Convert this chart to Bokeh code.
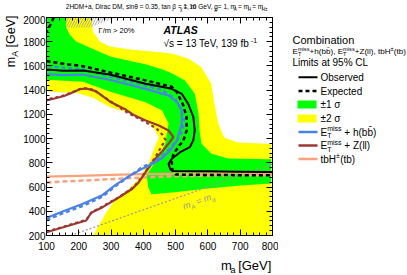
import math
from bokeh.plotting import figure
from bokeh.models import Range1d, Label, LinearAxis, SingleIntervalTicker, CustomJSTickFormatter
from bokeh.layouts import row, column
from bokeh.embed import file_html
from bokeh.resources import INLINE
from bokeh.core.properties import value

# ---------------- data (GeV) ----------------
yellow_x = [100, 238, 244, 265, 296, 357, 427, 488, 539, 580, 610, 620, 632, 650, 693, 796,
            796, 244, 284, 315, 356, 386, 417, 437, 448, 437, 410, 370, 300, 244, 192, 152, 100]
yellow_y = [2000, 2000, 1884, 1802, 1761, 1736, 1719, 1703, 1661, 1590, 1455, 1290, 1125, 1009, 968, 955,
            200, 200, 386, 503, 586, 668, 805, 943, 1012, 1067, 1150, 1205, 1255, 1337, 1378, 1380, 1390]

green_x = [100, 161, 161, 172, 192, 235, 300, 360, 410, 460, 490, 529, 559, 571, 574, 580, 610, 662, 796,
           796, 702, 601, 498, 425, 415, 410, 430, 448, 468, 478, 458, 407, 300, 213, 100]
green_y = [2000, 2000, 1917, 1860, 1802, 1750, 1675, 1640, 1612, 1570, 1538, 1480, 1372, 1207, 1067, 960, 877, 836, 830,
           629, 613, 588, 558, 540, 600, 700, 780, 850, 960, 1125, 1232, 1301, 1385, 1470, 1485]

hatch_x = [161, 161, 235, 314]
hatch_y = [2000, 1917, 1917, 2000]

exp_top_x = [122, 112, 100]
exp_top_y = [2000, 1940, 1880]
exp_x = [100, 152, 213, 300, 400, 488, 504, 524, 534, 534, 524, 509, 493, 488, 490, 500, 600, 700, 800]
exp_y = [1640, 1618, 1598, 1545, 1485, 1428, 1383, 1273, 1177, 1067, 984, 935, 870, 805, 740, 703, 700, 698, 697]

obs_x = [100, 152, 213, 296, 407, 488, 519, 539, 555, 559, 555, 544, 514, 488, 478, 483, 490, 600, 700, 800]
obs_y = [1571, 1560, 1562, 1530, 1453, 1411, 1370, 1287, 1177, 1067, 990, 929, 888, 833, 792, 751, 733, 730, 727, 724]

hbb_obs_x = [100, 152, 213, 274, 315, 356, 397, 427, 458, 483, 504, 519, 519, 504, 478, 407, 305, 213, 152, 100]
hbb_obs_y = [345, 400, 462, 535, 620, 690, 752, 790, 840, 902, 984, 1122, 1232, 1301, 1356, 1411, 1480, 1529, 1524, 1532]
hbb_exp_x = [100, 152, 213, 274, 315, 356, 397, 427, 468, 504, 522, 526, 514, 498, 458, 397, 300, 213, 152, 100]
hbb_exp_y = [328, 385, 445, 522, 612, 688, 765, 800, 877, 984, 1067, 1164, 1259, 1329, 1400, 1447, 1510, 1571, 1585, 1600]

zll_obs_x = [100, 152, 223, 238, 274, 325, 366, 386, 407, 437, 460, 480, 493, 478, 448, 407, 370, 345,
             300, 253, 223, 203, 172, 152, 100]
zll_obs_y = [227, 268, 324, 387, 434, 516, 586, 640, 723, 833, 900, 965, 1012, 1067, 1108, 1150, 1195, 1240,
             1300, 1392, 1414, 1408, 1370, 1350, 1315]
zll_exp_x = [100, 152, 223, 240, 274, 320, 360, 380, 400, 420, 440, 455, 468, 460, 440, 397, 350, 300, 244, 213, 152, 100]
zll_exp_y = [232, 272, 330, 392, 440, 510, 580, 630, 700, 780, 860, 930, 990, 1030, 1085, 1150, 1215, 1305, 1405, 1418, 1355, 1322]

tbh_obs_x = [100, 200, 300, 400, 500, 600, 700, 800]
tbh_obs_y = [686, 693, 700, 706, 709, 711, 713, 715]
tbh_exp_x = [100, 200, 300, 397, 500, 600, 700, 800]
tbh_exp_y = [638, 652, 665, 679, 690, 694, 697, 699]

diag_x = [175, 800]
diag_y = [200, 790]

# ---------------- styles ----------------
FONT = "Liberation Sans"
YELLOW = "#ffff00"
GREEN = "#00ff00"
BLUE = "#4b82ea"
BROWN = "#9a3836"
SALMON = "#f9a27c"
GRAY = "#9a9a9a"
SS = 0.7
MID = 0.3465  # alphabetic baseline -> middle of the text box, in em

W = {' ': 278, '%': 889, '(': 333, ')': 333, '+': 584, ',': 278, '-': 333, '.': 278, '/': 278,
     '=': 584, '>': 584, '[': 278, ']': 278, '\u0304': 0,
     'A': 667, 'B': 667, 'C': 722, 'D': 722, 'E': 667, 'F': 611, 'G': 778, 'H': 722, 'I': 278,
     'L': 556, 'M': 833, 'O': 778, 'S': 667, 'T': 611, 'V': 667, 'Z': 611,
     'a': 556, 'b': 556, 'c': 500, 'd': 556, 'e': 556, 'f': 278, 'g': 556, 'h': 556, 'i': 222,
     'l': 222, 'm': 833, 'n': 556, 'o': 556, 'p': 556, 'r': 333, 's': 500, 't': 278, 'v': 500,
     'x': 500, 'θ': 556, 'β': 570, 'χ': 520, 'σ': 570, 'Γ': 556, '±': 584, '√': 549}
for d in "0123456789":
    W[d] = 556


def tw(s, size):
    return sum(W.get(c, 556) for c in s) / 1000.0 * size


def rich(fig, mode, x, y, segs, size, color="black", angle_deg=0.0, style="normal", align="left",
         ox=0, oy=0):
    """x, y: page-pixel start of the alphabetic baseline.
    mode 'label': Label in canvas units (canvas origin at page ox, oy);
    mode 'glyph': text glyph in a strip figure whose data coords are (page x, -page y)."""
    th = math.radians(angle_deg)
    ca, sa = math.cos(th), math.sin(th)

    def seg_w(seg):
        k = seg[0]
        if k == "t":
            return tw(seg[1], size)
        if k in ("sub", "sup"):
            return tw(seg[1], size * SS)
        return max(tw(seg[1], size * SS), tw(seg[2], size * SS))

    total = sum(seg_w(s) for s in segs)
    adv = 0.0
    if align == "right":
        adv = -total
    elif align == "center":
        adv = -total / 2

    def put(text, a, d, sz):
        lead = len(text) - len(text.lstrip(" "))
        a += lead * W[' '] / 1000.0 * sz
        text = text.strip(" ")
        if not text:
            return
        d = d - MID * sz
        px = x + a * ca + d * sa
        py = y - a * sa + d * ca
        if mode == "label":
            fig.add_layout(Label(x=px - ox, y=py - oy, x_units="canvas", y_units="canvas", text=text,
                                 text_font=FONT, text_font_size=f"{sz:.2f}px",
                                 text_color=color, text_font_style=style, angle=th,
                                 text_align="left", text_baseline="middle"))
        else:
            fig.text(x=[px], y=[-py], text=[text], angle=th, text_font=value(FONT),
                     text_font_size=value(f"{sz:.2f}px"), text_color=color,
                     text_font_style=style, text_align="left", text_baseline="middle")

    for seg in segs:
        k = seg[0]
        if k == "t":
            put(seg[1], adv, 0, size)
        elif k == "sub":
            put(seg[1], adv, 0.25 * size, size * SS)
        elif k == "sup":
            put(seg[1], adv, -0.42 * size, size * SS)
        else:
            put(seg[1], adv, 0.25 * size, size * SS)
            put(seg[2], adv, -0.42 * size, size * SS)
        adv += seg_w(seg)


def strip(x0, x1, y0, y1):
    f = figure(width=x1 - x0, height=y1 - y0, x_range=Range1d(x0, x1), y_range=Range1d(-y1, -y0),
               output_backend="svg", toolbar_location=None, x_axis_type=None, y_axis_type=None,
               min_border_left=0, min_border_right=0, min_border_top=0, min_border_bottom=0)
    f.grid.visible = False
    f.outline_line_color = None
    f.background_fill_color = "white"
    f.border_fill_color = "white"
    return f


# ---------------- main plot (page x 20..278, y 15..257; frame 43..272 x 17..235) ----------------
MX, MY = 20, 15
p = figure(width=258, height=242, x_range=Range1d(100, 800), y_range=Range1d(200, 2000),
           output_backend="svg", toolbar_location=None,
           min_border_left=23, min_border_right=6, min_border_top=2, min_border_bottom=22)
p.grid.visible = False
p.outline_line_color = "black"
p.outline_line_width = 1
p.background_fill_color = "white"
p.border_fill_color = "white"

xt = SingleIntervalTicker(interval=100, num_minor_ticks=5)
yt = SingleIntervalTicker(interval=200, num_minor_ticks=5)
bx = p.below[0]
ly = p.left[0]
bx.ticker = xt
ly.ticker = yt
top = LinearAxis(ticker=xt, formatter=CustomJSTickFormatter(code="return ''"))
rgt = LinearAxis(ticker=yt, formatter=CustomJSTickFormatter(code="return ''"))
p.add_layout(top, "above")
p.add_layout(rgt, "right")
for ax in (bx, ly, top, rgt):
    ax.major_tick_in = 6
    ax.major_tick_out = 0
    ax.minor_tick_in = 3
    ax.minor_tick_out = 0
    ax.axis_line_color = "black"
    ax.major_tick_line_color = "black"
    ax.minor_tick_line_color = "black"
    ax.major_label_text_font = FONT
    ax.major_label_text_font_size = "10px"
    ax.major_label_text_color = "black"
bx.major_label_standoff = 6
ly.major_label_standoff = 1
top.major_label_standoff = 0
rgt.major_label_standoff = 0

p.patch(yellow_x, yellow_y, fill_color=YELLOW, line_color=None)
p.patch(green_x, green_y, fill_color=GREEN, line_color=None)
p.patch(hatch_x, hatch_y, fill_color=None, line_color=None, hatch_pattern="/",
        hatch_color="#999999", hatch_scale=5, hatch_weight=0.8)
p.line(diag_x, diag_y, line_color=GRAY, line_width=1.2, line_dash="2 2")
p.line(tbh_exp_x, tbh_exp_y, line_color=SALMON, line_width=2.5, line_dash="5 3")
p.line(tbh_obs_x, tbh_obs_y, line_color=SALMON, line_width=2.2)
p.line(zll_exp_x, zll_exp_y, line_color=BROWN, line_width=2.2, line_dash="3 3")
p.line(zll_obs_x, zll_obs_y, line_color=BROWN, line_width=2.2)
p.line(hbb_exp_x, hbb_exp_y, line_color=BLUE, line_width=2.5, line_dash="4 3")
p.line(hbb_obs_x, hbb_obs_y, line_color=BLUE, line_width=2.2)
p.line(exp_top_x, exp_top_y, line_color="black", line_width=2.5, line_dash="4 3")
p.line(exp_x, exp_y, line_color="black", line_width=2.5, line_dash="4 3")
p.line(obs_x, obs_y, line_color="black", line_width=2)

rich(p, "label", 163, 33, [("t", "ATLAS")], 10.5, style="bold italic", ox=MX, oy=MY)
rich(p, "label", 163, 46.5, [("t", "√s = 13 TeV, 139 fb"), ("sup", "-1")], 10, ox=MX, oy=MY)
rich(p, "label", 98, 32.5, [("t", "Γ/m > 20%")], 7.5, ox=MX, oy=MY)
rich(p, "label", 183.5, 209, [("t", "m"), ("sub", "A"), ("t", " = m"), ("sub", "a")], 9, color=GRAY,
     angle_deg=19.4, style="italic", ox=MX, oy=MY)

# ---------------- header, axis titles ----------------
hdr = strip(20, 278, 0, 15)
rich(hdr, "glyph", 42, 8.5, [("t", "2HDM+a, Dirac DM, sinθ = 0.35, tan β = 1, m"), ("sub", "χ"),
                             ("t", " = 10 GeV, g"), ("sub", "χ"), ("t", " = 1, m"), ("sub", "A"),
                             ("t", " = m"), ("sub", "H"), ("t", " = m"), ("sub", "H±")], 6.5)

xlab = strip(20, 278, 257, 275)
rich(xlab, "glyph", 272, 269.5, [("t", "m"), ("sub", "a"), ("t", " [GeV]")], 13, align="right")

ylab = strip(0, 20, 0, 275)
rich(ylab, "glyph", 14.6, 15, [("t", "m"), ("sub", "A"), ("t", " [GeV]")], 12.5, angle_deg=90, align="right")

# ---------------- legend panel ----------------
q = strip(278, 407, 0, 275)
rich(q, "glyph", 292, 43, [("t", "Combination")], 11)
rich(q, "glyph", 292, 53.5, [("t", "E"), ("ss", "T", "miss"), ("t", "+h(bb\u0304), E"), ("ss", "T", "miss"),
                             ("t", "+Z(ll), tbH"), ("sup", "±"), ("t", "(tb)")], 8.1)
rich(q, "glyph", 292, 65.5, [("t", "Limits at 95% CL")], 10)

rows = [76.7, 90.5, 104, 118, 131.5, 145, 158.5]
q.line([298, 317], [-rows[0], -rows[0]], line_color="black", line_width=2)
q.line([298, 317], [-rows[1], -rows[1]], line_color="black", line_width=2.5, line_dash="4 3")
q.quad(left=297, right=316, top=-(rows[2] - 4), bottom=-(rows[2] + 4), fill_color=GREEN, line_color=None)
q.quad(left=297, right=316, top=-(rows[3] - 4), bottom=-(rows[3] + 4), fill_color=YELLOW, line_color=None)
q.line([298, 317], [-rows[4], -rows[4]], line_color=BLUE, line_width=2.5)
q.line([298, 317], [-rows[5], -rows[5]], line_color=BROWN, line_width=2.5)
q.line([298, 317], [-rows[6], -rows[6]], line_color=SALMON, line_width=2.5)

ents = [
    [("t", "Observed")],
    [("t", "Expected")],
    [("t", "±1 σ")],
    [("t", "±2 σ")],
    [("t", "E"), ("ss", "T", "miss"), ("t", " + h(bb\u0304)")],
    [("t", "E"), ("ss", "T", "miss"), ("t", " + Z(ll)")],
    [("t", "tbH"), ("sup", "±"), ("t", "(tb)")],
]
for yy, segs in zip(rows, ents):
    rich(q, "glyph", 320, yy + 3.6, segs, 10)

layout = row(ylab, column(hdr, p, xlab), q)
open("out.html", "w").write(file_html(layout, INLINE))
